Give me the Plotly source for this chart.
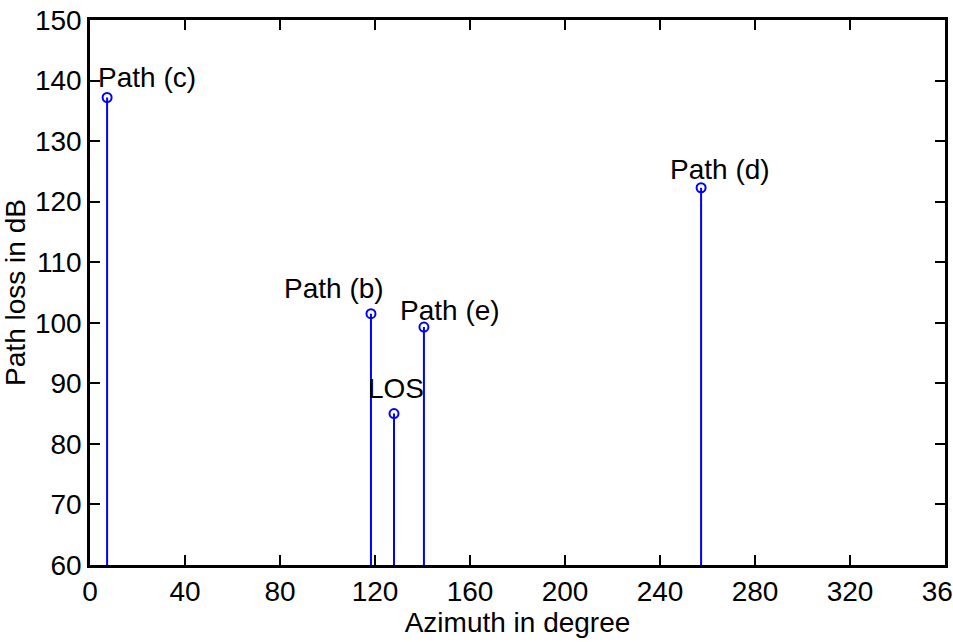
import plotly.graph_objects as go

# Azimuth (deg) and path loss (dB) of each propagation path
path_names = ["Path (c)", "Path (b)", "LOS", "Path (e)", "Path (d)"]
azimuth_deg = [7.2, 118.3, 128.0, 140.6, 257.3]
path_loss_db = [137.2, 101.5, 85.0, 99.3, 122.3]
# label offsets in pixels (right, up) from each stem head
label_dx = [40, -37, 2, 26, 19]
label_dy = [20, 25, 25, 17, 18]

baseline = 60
x_ticks = list(range(0, 361, 40))
y_ticks = list(range(60, 151, 10))

FONT = "Liberation Sans, Arial, sans-serif"
BLUE = "#0000ff"
FS = 28

stem_x, stem_y = [], []
for a, p in zip(azimuth_deg, path_loss_db):
    stem_x += [a, a, None]
    stem_y += [baseline, p, None]

fig = go.Figure()
fig.add_trace(go.Scatter(x=stem_x, y=stem_y, mode="lines",
                         line=dict(color=BLUE, width=2), hoverinfo="skip",
                         showlegend=False))
fig.add_trace(go.Scatter(x=azimuth_deg, y=path_loss_db, mode="markers",
                         marker=dict(symbol="circle-open", size=9, color=BLUE,
                                     line=dict(width=2, color=BLUE)),
                         showlegend=False))

for name, a, p, dx, dy in zip(path_names, azimuth_deg, path_loss_db, label_dx, label_dy):
    fig.add_annotation(x=a, y=p, text=name, showarrow=False,
                       xanchor="center", yanchor="middle", xshift=dx, yshift=dy,
                       font=dict(family=FONT, size=FS, color="black"))

axis_common = dict(showline=True, linecolor="black", linewidth=2.5, mirror="ticks",
                   ticks="inside", ticklen=10, tickwidth=1.5, tickcolor="black",
                   showgrid=False, zeroline=False, ticklabeloverflow="allow",
                   automargin=False,
                   tickfont=dict(family=FONT, size=FS, color="black"))

fig.update_xaxes(range=[0, 360], tickvals=x_ticks, ticktext=[str(v) for v in x_ticks],
                 title=dict(text="Azimuth in degree", standoff=4,
                            font=dict(family=FONT, size=FS, color="black")),
                 **axis_common)
fig.update_yaxes(range=[60, 150], tickvals=y_ticks,
                 title=dict(text="Path loss in dB", standoff=2,
                            font=dict(family=FONT, size=FS, color="black")),
                 **axis_common)

fig.update_layout(width=953, height=642, paper_bgcolor="white", plot_bgcolor="white",
                  margin=dict(l=90, r=8, t=20, b=77), showlegend=False)

fig.write_html("out.html")
